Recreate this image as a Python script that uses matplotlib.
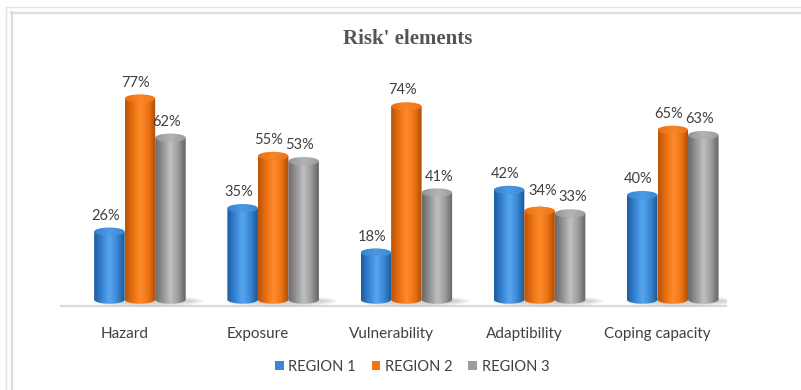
import numpy as np
import matplotlib
matplotlib.use("Agg")
import matplotlib.pyplot as plt
from matplotlib.patches import Ellipse, PathPatch, Patch
from matplotlib.path import Path
from matplotlib.lines import Line2D
from matplotlib.colors import LinearSegmentedColormap

# data
categories = ["Hazard", "Exposure", "Vulnerability", "Adaptibility", "Coping capacity"]
series_names = ["REGION 1", "REGION 2", "REGION 3"]
region1 = [0.26, 0.35, 0.18, 0.42, 0.40]
region2 = [0.77, 0.55, 0.74, 0.34, 0.65]
region3 = [0.62, 0.53, 0.41, 0.33, 0.63]

# cylinder shading, left edge -> highlight -> right edge
shades = [
    ["#1d5b9c", "#3583d2", "#58a6ee", "#3a88d4", "#1a5592"],
    ["#b9520a", "#e86f10", "#ff8c2c", "#ee7414", "#ae4a05"],
    ["#686868", "#939393", "#c0c0c0", "#9c9c9c", "#626262"],
]
tops = ["#4c9ae4", "#fb8526", "#b4b4b4"]
legend_colors = ["#3a88d4", "#ee7414", "#9c9c9c"]

plt.rcParams["font.family"] = ["Lato", "DejaVu Sans"]
text_color = "#404040"

fig = plt.figure(figsize=(8.01, 3.90), dpi=100)
W, H = 801, 390
# axes placed so that 0 sits on pixel row ~299 and 1.0 spans ~261 px
ax = fig.add_axes([60 / W, (H - 310) / H, 667 / W, 260 / H])

n = len(series_names)
x = np.arange(len(categories))
w = 0.229
eh = 0.032  # ellipse height in data units
all_vals = [region1, region2, region3]

# label nudges in points: (series, category) -> (dx, dy)
nudges = {(1, 3): (2.0, 14.5), (2, 3): (2.0, 11.5), (2, 2): (1.5, 11.5)}

grad = np.linspace(0, 1, 256).reshape(1, -1)

# soft shadow below each group
for xi in x:
    for k, a in enumerate([0.08, 0.08, 0.09, 0.10]):
        sw = n * w * (1.22 - 0.07 * k)
        ax.add_patch(Ellipse((xi + 0.06, -0.006), sw, 0.042 - 0.007 * k,
                             facecolor="#7a7a7a", edgecolor="none", alpha=a, zorder=1))

for s in range(n):
    cmap = LinearSegmentedColormap.from_list("c%d" % s, shades[s])
    tcmap = LinearSegmentedColormap.from_list("t%d" % s, [shades[s][1], tops[s], shades[s][3]])
    for i, v in enumerate(all_vals[s]):
        xc = x[i] + (s - 1) * w
        x0, x1 = xc - w / 2, xc + w / 2
        t = np.linspace(np.pi, 2 * np.pi, 40)
        verts = list(zip(xc + w / 2 * np.cos(t), eh / 2 * np.sin(t)))
        verts += [(x1, v), (x0, v), verts[0]]
        codes = [Path.MOVETO] + [Path.LINETO] * (len(verts) - 2) + [Path.CLOSEPOLY]
        body = PathPatch(Path(verts, codes), facecolor="none", edgecolor="none", zorder=2)
        ax.add_patch(body)
        im = ax.imshow(grad, cmap=cmap, extent=(x0, x1, -eh, v), aspect="auto",
                       zorder=2, interpolation="bicubic")
        im.set_clip_path(body)
        top = Ellipse((xc, v), w, eh, facecolor="none", edgecolor="none", zorder=3)
        ax.add_patch(top)
        im2 = ax.imshow(grad, cmap=tcmap, extent=(x0, x1, v - eh, v + eh), aspect="auto",
                        zorder=3, interpolation="bicubic")
        im2.set_clip_path(top)

        lbl = "%d%%" % round(v * 100)
        dx, dy = nudges.get((s, i), (-3, 11.5))
        arrow = None
        if (s, i) == (1, 3):
            arrow = dict(arrowstyle="-", color="#a0a0a0", lw=0.8, shrinkA=4, shrinkB=1)
        ax.annotate(lbl, xy=(xc, v), xytext=(dx, dy), textcoords="offset points",
                    ha="center", va="center", fontsize=10.5, color=text_color, zorder=5,
                    arrowprops=arrow)

ax.set_xlim(-0.60, 4.407)
ax.set_ylim(-0.040, 0.956)
ax.axhline(-0.025, color="#d9d9d9", lw=1.6, zorder=0)

for sp in ax.spines.values():
    sp.set_visible(False)
ax.set_yticks([])
ax.set_xticks(x - 0.113)
ax.set_xticklabels(categories, fontsize=11, color=text_color)
ax.tick_params(axis="x", length=0, pad=12)

fig.text(408 / W, 1 - 39 / H, "Risk' elements", ha="center", va="center",
         fontsize=15, fontweight="bold", color="#555555", family="Liberation Serif")

handles = [Patch(facecolor=c, edgecolor="none") for c in legend_colors]
fig.legend(handles, series_names, loc="center", bbox_to_anchor=(412 / W, 1 - 367 / H),
           ncol=3, frameon=False, fontsize=10.5, handlelength=0.6, handleheight=0.6,
           handletextpad=0.3, columnspacing=1.1, labelcolor=text_color)

# the double frame round the picture
def fline(xs, ys, c, lw):
    fig.add_artist(Line2D([a / W for a in xs], [1 - b / H for b in ys],
                          transform=fig.transFigure, color=c, lw=lw))

fline([6, 801], [7, 7], "#e4e4e4", 1.0)
fline([6, 6], [7, 390], "#e4e4e4", 1.0)
fline([11, 801], [12.5, 12.5], "#dcdcdc", 1.6)
fline([11.5, 11.5], [12, 390], "#dcdcdc", 1.6)

fig.savefig("out.png", dpi=100)
